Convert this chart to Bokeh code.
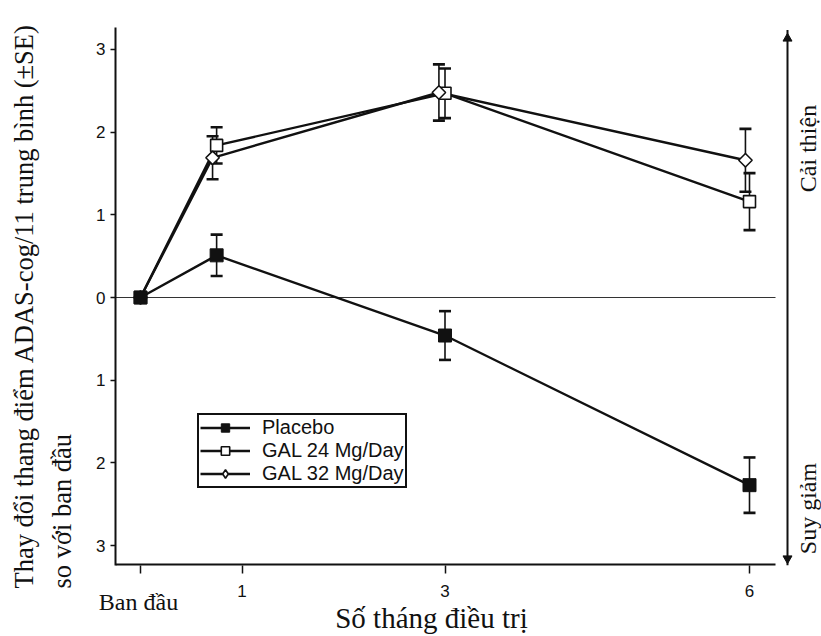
import numpy as np
from bokeh.plotting import figure
from bokeh.models import Range1d, FixedTicker, Label, Legend, LegendItem
from bokeh.embed import file_html
from bokeh.resources import INLINE

# ---- data ----
months_placebo = [0.0, 0.75, 3.0, 6.0]
placebo = [0.0, 0.51, -0.46, -2.27]
placebo_se = [0.0, 0.25, 0.295, 0.335]

months_gal24 = [0.0, 0.75, 3.0, 6.0]
gal24 = [0.0, 1.84, 2.47, 1.16]
gal24_se = [0.0, 0.22, 0.30, 0.345]

months_gal32 = [0.0, 0.71, 2.94, 5.96]
gal32 = [0.0, 1.69, 2.48, 1.66]
gal32_se = [0.0, 0.26, 0.34, 0.38]

x_ticks = [0, 1, 3, 6]
x_tick_labels = {0: "", 1: "1", 3: "3", 6: "6"}
baseline_label = "Ban đầu"
y_ticks = [-3, -2, -1, 0, 1, 2, 3]
y_tick_labels = {-3: "3", -2: "2", -1: "1", 0: "0", 1: "1", 2: "2", 3: "3"}

series_names = ["Placebo", "GAL 24 Mg/Day", "GAL 32 Mg/Day"]

# ---- layout constants ----
W, H = 821, 636
PX_PER_X = 101.5      # pixels per month
X0_PX = 140           # pixel of month 0
PX_PER_Y = 82.67
Y0_PX = 297
FRAME_L, FRAME_T, FRAME_B = 115, 27, 565


def dx(px):
    return (px - X0_PX) / PX_PER_X


def dy(py):
    return (Y0_PX - py) / PX_PER_Y


X_LO, X_HI = dx(FRAME_L), dx(W)
Y_LO, Y_HI = dy(FRAME_B), dy(FRAME_T)
AXIS_END = dx(775)
RIGHT_X = dx(787)
INK = "#111111"
SERIF = "Liberation Serif"
SANS = "Liberation Sans"

p = figure(width=W, height=H, x_range=Range1d(X_LO, X_HI), y_range=Range1d(Y_LO, Y_HI),
           output_backend="svg", toolbar_location=None,
           min_border_left=FRAME_L, min_border_right=0, min_border_top=FRAME_T,
           min_border_bottom=H - FRAME_B)
p.outline_line_color = None
p.xgrid.visible = False
p.ygrid.visible = False
p.background_fill_color = "white"
p.border_fill_color = "white"

# y axis
ya = p.yaxis[0]
ya.ticker = FixedTicker(ticks=y_ticks)
ya.major_label_overrides = y_tick_labels
ya.axis_line_width = 2
ya.axis_line_color = INK
ya.major_tick_out = 5
ya.major_tick_in = 0
ya.major_tick_line_width = 1.5
ya.major_tick_line_color = INK
ya.minor_tick_line_color = None
ya.major_label_text_font = SANS
ya.major_label_text_font_size = "17px"
ya.major_label_text_color = INK
ya.major_label_standoff = 5

# x axis (line drawn separately so it stops before the right arrow)
xa = p.xaxis[0]
xa.ticker = FixedTicker(ticks=x_ticks)
xa.major_label_overrides = x_tick_labels
xa.axis_line_color = None
xa.major_tick_out = 8
xa.major_tick_in = 0
xa.major_tick_line_width = 1.5
xa.major_tick_line_color = INK
xa.minor_tick_line_color = None
xa.major_label_text_font = SANS
xa.major_label_text_font_size = "17px"
xa.major_label_text_color = INK
xa.major_label_standoff = 11

# x axis line, zero line, right arrow
p.segment(x0=[X_LO], x1=[AXIS_END], y0=[Y_LO], y1=[Y_LO], line_width=4, line_color=INK)
p.segment(x0=[X_LO], x1=[AXIS_END], y0=[0], y1=[0], line_width=1.2, line_color="#333333")
p.segment(x0=[RIGHT_X], x1=[RIGHT_X], y0=[Y_HI - 0.03], y1=[Y_LO], line_width=2, line_color=INK)
p.scatter(x=[RIGHT_X], y=[dy(38)], marker="triangle", size=9, fill_color=INK, line_color=INK)
p.scatter(x=[RIGHT_X], y=[dy(558)], marker="inverted_triangle", size=9, fill_color=INK, line_color=INK)

all_x = [months_placebo, months_gal24, months_gal32]
all_y = [placebo, gal24, gal32]
all_se = [placebo_se, gal24_se, gal32_se]

lines = []
for xs, ys in zip(all_x, all_y):
    lines.append(p.line(xs, ys, line_width=2.4, line_color=INK))

for xs, ys, se in zip(all_x, all_y, all_se):
    xs = np.array(xs); ys = np.array(ys); se = np.array(se)
    m = se > 0
    p.segment(x0=xs[m], x1=xs[m], y0=ys[m] - se[m], y1=ys[m] + se[m], line_width=1.6, line_color=INK)
    cx = np.concatenate([xs[m], xs[m]])
    cy = np.concatenate([ys[m] - se[m], ys[m] + se[m]])
    p.scatter(x=cx, y=cy, marker="dash", size=12, line_width=2.6, line_color=INK)

mk24 = p.scatter(months_gal24, gal24, marker="square", size=12, fill_color="white",
                 line_color=INK, line_width=1.6)
# diamond used by the legend (legend glyphs ignore marker angles); hidden under the rotated square
leg32 = p.scatter(months_gal32, gal32, marker="diamond", size=11, fill_color="white",
                  line_color=INK, line_width=1.6)
mk32 = p.scatter(months_gal32, gal32, marker="square", angle=np.pi / 4, size=9.5,
                 fill_color="white", line_color=INK, line_width=1.6)
mkp = p.scatter(months_placebo, placebo, marker="square", size=13, fill_color=INK,
                line_color=INK, line_width=1)

legend = Legend(items=[
    LegendItem(label=series_names[0], renderers=[lines[0], mkp]),
    LegendItem(label=series_names[1], renderers=[lines[1], mk24]),
    LegendItem(label=series_names[2], renderers=[lines[2], leg32]),
], location=(82, 77))
legend.border_line_color = INK
legend.border_line_width = 2
legend.border_line_alpha = 1
legend.background_fill_color = "white"
legend.background_fill_alpha = 1
legend.label_text_font = SANS
legend.label_text_font_size = "20px"
legend.label_text_color = INK
legend.glyph_width = 50
legend.glyph_height = 21
legend.label_height = 21
legend.padding = 1
legend.spacing = 0
legend.margin = 0
legend.label_standoff = 12
p.add_layout(legend)

BASE_SHIFT = 0.34  # Bokeh draws "alphabetic" label text about a third of an em lower


def lab(text, px, py, size, side=None, angle=0, align="left", baseline="alphabetic"):
    fs = float(size.replace("px", ""))
    if baseline == "alphabetic":
        if angle:
            px = px - BASE_SHIFT * fs
        else:
            py = py - BASE_SHIFT * fs
    lbl = Label(x=dx(px), y=dy(py), x_units="data", y_units="data", text=text,
                angle=angle, text_align=align, text_baseline=baseline,
                text_font=SERIF, text_font_size=size, text_color=INK)
    if side is None:
        p.add_layout(lbl)
    else:
        p.add_layout(lbl, side)


lab("Thay đổi thang điểm ADAS-cog/11 trung bình (±SE)", 33, 588, "26.5px", side="left", angle=np.pi / 2)
lab("so với ban đầu", 71, 588, "26.5px", side="left", angle=np.pi / 2)
lab(baseline_label, 138, 610, "24px", side="above", align="center")
lab("Số tháng điều trị", 431, 627, "29px", side="below", align="center")
lab("Cải thiện", 807, 148, "24px", angle=np.pi / 2, align="center", baseline="middle")
lab("Suy giảm", 807, 508, "24px", angle=np.pi / 2, align="center", baseline="middle")

open("out.html", "w").write(file_html(p, INLINE))
